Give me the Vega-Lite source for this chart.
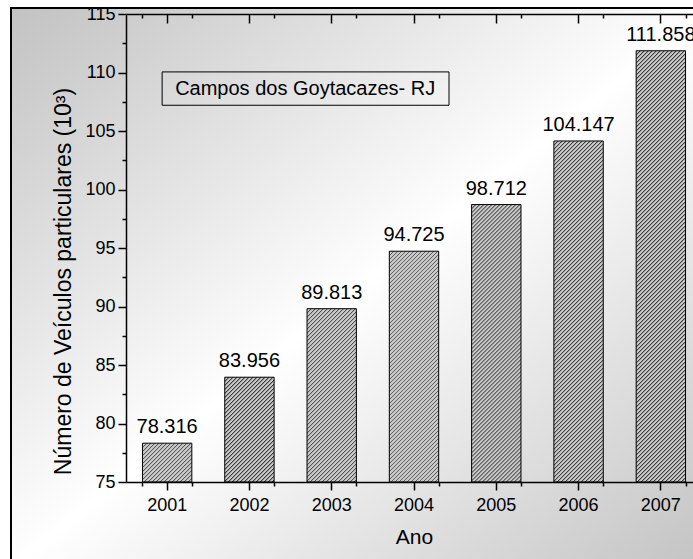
{
 "$schema": "https://vega.github.io/schema/vega-lite/v6.json",
 "width": 700,
 "height": 560,
 "autosize": {"type": "none"},
 "padding": {"left": 11, "top": 8, "right": -18, "bottom": -9},
 "background": "#ffffff",
 "config": {
  "font": "Liberation Sans",
  "view": {"stroke": null},
  "axis": {"grid": false, "domainColor": "#000", "tickColor": "#000", "labelColor": "#000", "titleColor": "#000", "titleFontWeight": "normal", "domainWidth": 1.5, "tickWidth": 1.5, "labelFont": "Liberation Sans", "titleFont": "Liberation Sans"}
 },
 "params": [{"name": "hatch", "value": [
{"offset":0,"color":"#333"},{"offset":0.003,"color":"#c8c8c8"},{"offset":0.007,"color":"#c8c8c8"},
{"offset":0.008,"color":"#333"},{"offset":0.011,"color":"#c8c8c8"},{"offset":0.015,"color":"#c8c8c8"},
{"offset":0.016,"color":"#333"},{"offset":0.019,"color":"#c8c8c8"},{"offset":0.023,"color":"#c8c8c8"},
{"offset":0.024,"color":"#333"},{"offset":0.027,"color":"#c8c8c8"},{"offset":0.031,"color":"#c8c8c8"},
{"offset":0.032,"color":"#333"},{"offset":0.035,"color":"#c8c8c8"},{"offset":0.039,"color":"#c8c8c8"},
{"offset":0.04,"color":"#333"},{"offset":0.043,"color":"#c8c8c8"},{"offset":0.047,"color":"#c8c8c8"},
{"offset":0.048,"color":"#333"},{"offset":0.051,"color":"#c8c8c8"},{"offset":0.055,"color":"#c8c8c8"},
{"offset":0.056,"color":"#333"},{"offset":0.059,"color":"#c8c8c8"},{"offset":0.063,"color":"#c8c8c8"},
{"offset":0.064,"color":"#333"},{"offset":0.067,"color":"#c8c8c8"},{"offset":0.071,"color":"#c8c8c8"},
{"offset":0.072,"color":"#333"},{"offset":0.075,"color":"#c8c8c8"},{"offset":0.079,"color":"#c8c8c8"},
{"offset":0.08,"color":"#333"},{"offset":0.083,"color":"#c8c8c8"},{"offset":0.087,"color":"#c8c8c8"},
{"offset":0.088,"color":"#333"},{"offset":0.091,"color":"#c8c8c8"},{"offset":0.095,"color":"#c8c8c8"},
{"offset":0.096,"color":"#333"},{"offset":0.099,"color":"#c8c8c8"},{"offset":0.103,"color":"#c8c8c8"},
{"offset":0.104,"color":"#333"},{"offset":0.107,"color":"#c8c8c8"},{"offset":0.111,"color":"#c8c8c8"},
{"offset":0.112,"color":"#333"},{"offset":0.115,"color":"#c8c8c8"},{"offset":0.119,"color":"#c8c8c8"},
{"offset":0.12,"color":"#333"},{"offset":0.123,"color":"#c8c8c8"},{"offset":0.127,"color":"#c8c8c8"},
{"offset":0.128,"color":"#333"},{"offset":0.131,"color":"#c8c8c8"},{"offset":0.135,"color":"#c8c8c8"},
{"offset":0.136,"color":"#333"},{"offset":0.139,"color":"#c8c8c8"},{"offset":0.143,"color":"#c8c8c8"},
{"offset":0.144,"color":"#333"},{"offset":0.147,"color":"#c8c8c8"},{"offset":0.151,"color":"#c8c8c8"},
{"offset":0.152,"color":"#333"},{"offset":0.155,"color":"#c8c8c8"},{"offset":0.159,"color":"#c8c8c8"},
{"offset":0.16,"color":"#333"},{"offset":0.163,"color":"#c8c8c8"},{"offset":0.167,"color":"#c8c8c8"},
{"offset":0.168,"color":"#333"},{"offset":0.171,"color":"#c8c8c8"},{"offset":0.175,"color":"#c8c8c8"},
{"offset":0.176,"color":"#333"},{"offset":0.179,"color":"#c8c8c8"},{"offset":0.183,"color":"#c8c8c8"},
{"offset":0.184,"color":"#333"},{"offset":0.187,"color":"#c8c8c8"},{"offset":0.191,"color":"#c8c8c8"},
{"offset":0.192,"color":"#333"},{"offset":0.195,"color":"#c8c8c8"},{"offset":0.199,"color":"#c8c8c8"},
{"offset":0.2,"color":"#333"},{"offset":0.203,"color":"#c8c8c8"},{"offset":0.207,"color":"#c8c8c8"},
{"offset":0.208,"color":"#333"},{"offset":0.211,"color":"#c8c8c8"},{"offset":0.215,"color":"#c8c8c8"},
{"offset":0.216,"color":"#333"},{"offset":0.219,"color":"#c8c8c8"},{"offset":0.223,"color":"#c8c8c8"},
{"offset":0.224,"color":"#333"},{"offset":0.227,"color":"#c8c8c8"},{"offset":0.231,"color":"#c8c8c8"},
{"offset":0.232,"color":"#333"},{"offset":0.235,"color":"#c8c8c8"},{"offset":0.239,"color":"#c8c8c8"},
{"offset":0.24,"color":"#333"},{"offset":0.243,"color":"#c8c8c8"},{"offset":0.247,"color":"#c8c8c8"},
{"offset":0.248,"color":"#333"},{"offset":0.251,"color":"#c8c8c8"},{"offset":0.255,"color":"#c8c8c8"},
{"offset":0.256,"color":"#333"},{"offset":0.259,"color":"#c8c8c8"},{"offset":0.263,"color":"#c8c8c8"},
{"offset":0.264,"color":"#333"},{"offset":0.267,"color":"#c8c8c8"},{"offset":0.271,"color":"#c8c8c8"},
{"offset":0.272,"color":"#333"},{"offset":0.275,"color":"#c8c8c8"},{"offset":0.279,"color":"#c8c8c8"},
{"offset":0.28,"color":"#333"},{"offset":0.283,"color":"#c8c8c8"},{"offset":0.287,"color":"#c8c8c8"},
{"offset":0.288,"color":"#333"},{"offset":0.291,"color":"#c8c8c8"},{"offset":0.295,"color":"#c8c8c8"},
{"offset":0.296,"color":"#333"},{"offset":0.299,"color":"#c8c8c8"},{"offset":0.303,"color":"#c8c8c8"},
{"offset":0.304,"color":"#333"},{"offset":0.307,"color":"#c8c8c8"},{"offset":0.311,"color":"#c8c8c8"},
{"offset":0.312,"color":"#333"},{"offset":0.315,"color":"#c8c8c8"},{"offset":0.319,"color":"#c8c8c8"},
{"offset":0.32,"color":"#333"},{"offset":0.323,"color":"#c8c8c8"},{"offset":0.327,"color":"#c8c8c8"},
{"offset":0.328,"color":"#333"},{"offset":0.331,"color":"#c8c8c8"},{"offset":0.335,"color":"#c8c8c8"},
{"offset":0.336,"color":"#333"},{"offset":0.339,"color":"#c8c8c8"},{"offset":0.343,"color":"#c8c8c8"},
{"offset":0.344,"color":"#333"},{"offset":0.347,"color":"#c8c8c8"},{"offset":0.351,"color":"#c8c8c8"},
{"offset":0.352,"color":"#333"},{"offset":0.355,"color":"#c8c8c8"},{"offset":0.359,"color":"#c8c8c8"},
{"offset":0.36,"color":"#333"},{"offset":0.363,"color":"#c8c8c8"},{"offset":0.367,"color":"#c8c8c8"},
{"offset":0.368,"color":"#333"},{"offset":0.371,"color":"#c8c8c8"},{"offset":0.375,"color":"#c8c8c8"},
{"offset":0.376,"color":"#333"},{"offset":0.379,"color":"#c8c8c8"},{"offset":0.383,"color":"#c8c8c8"},
{"offset":0.384,"color":"#333"},{"offset":0.387,"color":"#c8c8c8"},{"offset":0.391,"color":"#c8c8c8"},
{"offset":0.392,"color":"#333"},{"offset":0.395,"color":"#c8c8c8"},{"offset":0.399,"color":"#c8c8c8"},
{"offset":0.4,"color":"#333"},{"offset":0.403,"color":"#c8c8c8"},{"offset":0.407,"color":"#c8c8c8"},
{"offset":0.408,"color":"#333"},{"offset":0.411,"color":"#c8c8c8"},{"offset":0.415,"color":"#c8c8c8"},
{"offset":0.416,"color":"#333"},{"offset":0.419,"color":"#c8c8c8"},{"offset":0.423,"color":"#c8c8c8"},
{"offset":0.424,"color":"#333"},{"offset":0.427,"color":"#c8c8c8"},{"offset":0.431,"color":"#c8c8c8"},
{"offset":0.432,"color":"#333"},{"offset":0.435,"color":"#c8c8c8"},{"offset":0.439,"color":"#c8c8c8"},
{"offset":0.44,"color":"#333"},{"offset":0.443,"color":"#c8c8c8"},{"offset":0.447,"color":"#c8c8c8"},
{"offset":0.448,"color":"#333"},{"offset":0.451,"color":"#c8c8c8"},{"offset":0.455,"color":"#c8c8c8"},
{"offset":0.456,"color":"#333"},{"offset":0.459,"color":"#c8c8c8"},{"offset":0.463,"color":"#c8c8c8"},
{"offset":0.464,"color":"#333"},{"offset":0.467,"color":"#c8c8c8"},{"offset":0.471,"color":"#c8c8c8"},
{"offset":0.472,"color":"#333"},{"offset":0.475,"color":"#c8c8c8"},{"offset":0.479,"color":"#c8c8c8"},
{"offset":0.48,"color":"#333"},{"offset":0.483,"color":"#c8c8c8"},{"offset":0.487,"color":"#c8c8c8"},
{"offset":0.488,"color":"#333"},{"offset":0.491,"color":"#c8c8c8"},{"offset":0.495,"color":"#c8c8c8"},
{"offset":0.496,"color":"#333"},{"offset":0.499,"color":"#c8c8c8"},{"offset":0.503,"color":"#c8c8c8"},
{"offset":0.504,"color":"#333"},{"offset":0.507,"color":"#c8c8c8"},{"offset":0.511,"color":"#c8c8c8"},
{"offset":0.512,"color":"#333"},{"offset":0.515,"color":"#c8c8c8"},{"offset":0.519,"color":"#c8c8c8"},
{"offset":0.52,"color":"#333"},{"offset":0.523,"color":"#c8c8c8"},{"offset":0.527,"color":"#c8c8c8"},
{"offset":0.528,"color":"#333"},{"offset":0.531,"color":"#c8c8c8"},{"offset":0.535,"color":"#c8c8c8"},
{"offset":0.536,"color":"#333"},{"offset":0.539,"color":"#c8c8c8"},{"offset":0.543,"color":"#c8c8c8"},
{"offset":0.544,"color":"#333"},{"offset":0.547,"color":"#c8c8c8"},{"offset":0.551,"color":"#c8c8c8"},
{"offset":0.552,"color":"#333"},{"offset":0.555,"color":"#c8c8c8"},{"offset":0.559,"color":"#c8c8c8"},
{"offset":0.56,"color":"#333"},{"offset":0.563,"color":"#c8c8c8"},{"offset":0.567,"color":"#c8c8c8"},
{"offset":0.568,"color":"#333"},{"offset":0.571,"color":"#c8c8c8"},{"offset":0.575,"color":"#c8c8c8"},
{"offset":0.576,"color":"#333"},{"offset":0.579,"color":"#c8c8c8"},{"offset":0.583,"color":"#c8c8c8"},
{"offset":0.584,"color":"#333"},{"offset":0.587,"color":"#c8c8c8"},{"offset":0.591,"color":"#c8c8c8"},
{"offset":0.592,"color":"#333"},{"offset":0.595,"color":"#c8c8c8"},{"offset":0.599,"color":"#c8c8c8"},
{"offset":0.6,"color":"#333"},{"offset":0.603,"color":"#c8c8c8"},{"offset":0.607,"color":"#c8c8c8"},
{"offset":0.608,"color":"#333"},{"offset":0.611,"color":"#c8c8c8"},{"offset":0.615,"color":"#c8c8c8"},
{"offset":0.616,"color":"#333"},{"offset":0.619,"color":"#c8c8c8"},{"offset":0.623,"color":"#c8c8c8"},
{"offset":0.624,"color":"#333"},{"offset":0.627,"color":"#c8c8c8"},{"offset":0.631,"color":"#c8c8c8"},
{"offset":0.632,"color":"#333"},{"offset":0.635,"color":"#c8c8c8"},{"offset":0.639,"color":"#c8c8c8"},
{"offset":0.64,"color":"#333"},{"offset":0.643,"color":"#c8c8c8"},{"offset":0.647,"color":"#c8c8c8"},
{"offset":0.648,"color":"#333"},{"offset":0.651,"color":"#c8c8c8"},{"offset":0.655,"color":"#c8c8c8"},
{"offset":0.656,"color":"#333"},{"offset":0.659,"color":"#c8c8c8"},{"offset":0.663,"color":"#c8c8c8"},
{"offset":0.664,"color":"#333"},{"offset":0.667,"color":"#c8c8c8"},{"offset":0.671,"color":"#c8c8c8"},
{"offset":0.672,"color":"#333"},{"offset":0.675,"color":"#c8c8c8"},{"offset":0.679,"color":"#c8c8c8"},
{"offset":0.68,"color":"#333"},{"offset":0.683,"color":"#c8c8c8"},{"offset":0.687,"color":"#c8c8c8"},
{"offset":0.688,"color":"#333"},{"offset":0.691,"color":"#c8c8c8"},{"offset":0.695,"color":"#c8c8c8"},
{"offset":0.696,"color":"#333"},{"offset":0.699,"color":"#c8c8c8"},{"offset":0.703,"color":"#c8c8c8"},
{"offset":0.704,"color":"#333"},{"offset":0.707,"color":"#c8c8c8"},{"offset":0.711,"color":"#c8c8c8"},
{"offset":0.712,"color":"#333"},{"offset":0.715,"color":"#c8c8c8"},{"offset":0.719,"color":"#c8c8c8"},
{"offset":0.72,"color":"#333"},{"offset":0.723,"color":"#c8c8c8"},{"offset":0.727,"color":"#c8c8c8"},
{"offset":0.728,"color":"#333"},{"offset":0.731,"color":"#c8c8c8"},{"offset":0.735,"color":"#c8c8c8"},
{"offset":0.736,"color":"#333"},{"offset":0.739,"color":"#c8c8c8"},{"offset":0.743,"color":"#c8c8c8"},
{"offset":0.744,"color":"#333"},{"offset":0.747,"color":"#c8c8c8"},{"offset":0.751,"color":"#c8c8c8"},
{"offset":0.752,"color":"#333"},{"offset":0.755,"color":"#c8c8c8"},{"offset":0.759,"color":"#c8c8c8"},
{"offset":0.76,"color":"#333"},{"offset":0.763,"color":"#c8c8c8"},{"offset":0.767,"color":"#c8c8c8"},
{"offset":0.768,"color":"#333"},{"offset":0.771,"color":"#c8c8c8"},{"offset":0.775,"color":"#c8c8c8"},
{"offset":0.776,"color":"#333"},{"offset":0.779,"color":"#c8c8c8"},{"offset":0.783,"color":"#c8c8c8"},
{"offset":0.784,"color":"#333"},{"offset":0.787,"color":"#c8c8c8"},{"offset":0.791,"color":"#c8c8c8"},
{"offset":0.792,"color":"#333"},{"offset":0.795,"color":"#c8c8c8"},{"offset":0.799,"color":"#c8c8c8"},
{"offset":0.8,"color":"#333"},{"offset":0.803,"color":"#c8c8c8"},{"offset":0.807,"color":"#c8c8c8"},
{"offset":0.808,"color":"#333"},{"offset":0.811,"color":"#c8c8c8"},{"offset":0.815,"color":"#c8c8c8"},
{"offset":0.816,"color":"#333"},{"offset":0.819,"color":"#c8c8c8"},{"offset":0.823,"color":"#c8c8c8"},
{"offset":0.824,"color":"#333"},{"offset":0.827,"color":"#c8c8c8"},{"offset":0.831,"color":"#c8c8c8"},
{"offset":0.832,"color":"#333"},{"offset":0.835,"color":"#c8c8c8"},{"offset":0.839,"color":"#c8c8c8"},
{"offset":0.84,"color":"#333"},{"offset":0.843,"color":"#c8c8c8"},{"offset":0.847,"color":"#c8c8c8"},
{"offset":0.848,"color":"#333"},{"offset":0.851,"color":"#c8c8c8"},{"offset":0.855,"color":"#c8c8c8"},
{"offset":0.856,"color":"#333"},{"offset":0.859,"color":"#c8c8c8"},{"offset":0.863,"color":"#c8c8c8"},
{"offset":0.864,"color":"#333"},{"offset":0.867,"color":"#c8c8c8"},{"offset":0.871,"color":"#c8c8c8"},
{"offset":0.872,"color":"#333"},{"offset":0.875,"color":"#c8c8c8"},{"offset":0.879,"color":"#c8c8c8"},
{"offset":0.88,"color":"#333"},{"offset":0.883,"color":"#c8c8c8"},{"offset":0.887,"color":"#c8c8c8"},
{"offset":0.888,"color":"#333"},{"offset":0.891,"color":"#c8c8c8"},{"offset":0.895,"color":"#c8c8c8"},
{"offset":0.896,"color":"#333"},{"offset":0.899,"color":"#c8c8c8"},{"offset":0.903,"color":"#c8c8c8"},
{"offset":0.904,"color":"#333"},{"offset":0.907,"color":"#c8c8c8"},{"offset":0.911,"color":"#c8c8c8"},
{"offset":0.912,"color":"#333"},{"offset":0.915,"color":"#c8c8c8"},{"offset":0.919,"color":"#c8c8c8"},
{"offset":0.92,"color":"#333"},{"offset":0.923,"color":"#c8c8c8"},{"offset":0.927,"color":"#c8c8c8"},
{"offset":0.928,"color":"#333"},{"offset":0.931,"color":"#c8c8c8"},{"offset":0.935,"color":"#c8c8c8"},
{"offset":0.936,"color":"#333"},{"offset":0.939,"color":"#c8c8c8"},{"offset":0.943,"color":"#c8c8c8"},
{"offset":0.944,"color":"#333"},{"offset":0.947,"color":"#c8c8c8"},{"offset":0.951,"color":"#c8c8c8"},
{"offset":0.952,"color":"#333"},{"offset":0.955,"color":"#c8c8c8"},{"offset":0.959,"color":"#c8c8c8"},
{"offset":0.96,"color":"#333"},{"offset":0.963,"color":"#c8c8c8"},{"offset":0.967,"color":"#c8c8c8"},
{"offset":0.968,"color":"#333"},{"offset":0.971,"color":"#c8c8c8"},{"offset":0.975,"color":"#c8c8c8"},
{"offset":0.976,"color":"#333"},{"offset":0.979,"color":"#c8c8c8"},{"offset":0.983,"color":"#c8c8c8"},
{"offset":0.984,"color":"#333"},{"offset":0.987,"color":"#c8c8c8"},{"offset":0.991,"color":"#c8c8c8"},
{"offset":0.992,"color":"#333"},{"offset":0.995,"color":"#c8c8c8"},{"offset":0.999,"color":"#c8c8c8"},
{"offset":1,"color":"#333"}
 ]}],
 "data": {"values": [
  {"ano": "2001", "veiculos": 78.316},
  {"ano": "2002", "veiculos": 83.956},
  {"ano": "2003", "veiculos": 89.813},
  {"ano": "2004", "veiculos": 94.725},
  {"ano": "2005", "veiculos": 98.712},
  {"ano": "2006", "veiculos": 104.147},
  {"ano": "2007", "veiculos": 111.858}
 ]},
 "layer": [
  {
   "data": {"values": [{}]},
   "mark": {"type": "rect", "stroke": "#000", "strokeWidth": 2, "fill": {"gradient": "linear", "x1": 0, "y1": 0, "x2": 1, "y2": 1, "stops": [{"offset": 0, "color": "#c2c2c2"}, {"offset": 0.5, "color": "#ffffff"}, {"offset": 1, "color": "#c2c2c2"}]}},
   "encoding": {}
  },
  {
   "mark": {"type": "bar", "stroke": "#000", "strokeWidth": 1, "fill": {"expr": "{gradient: 'linear', x1: 0, y1: 0, x2: bandwidth('x') * 500 / (pow(bandwidth('x'), 2) + pow(scale('y', 75) - scale('y', datum.veiculos), 2)), y2: (scale('y', 75) - scale('y', datum.veiculos)) * 500 / (pow(bandwidth('x'), 2) + pow(scale('y', 75) - scale('y', datum.veiculos), 2)), stops: hatch}"}},
   "encoding": {
    "x": {"field": "ano", "type": "nominal", "sort": null,
     "scale": {"domain": ["2001", "2002", "2003", "2004", "2005", "2006", "2007"], "range": [115, 691], "paddingInner": 0.4, "paddingOuter": 0.2},
     "axis": {"zindex": 2, "orient": "bottom", "offset": -86, "title": "Ano", "titleFontSize": 21, "titlePadding": 12, "labelFontSize": 18, "labelAngle": 0, "tickSize": 8, "labelPadding": 6}},
    "y": {"field": "veiculos", "type": "quantitative",
     "scale": {"domain": [75, 115], "range": [474, 6], "nice": false, "zero": false},
     "axis": {"zindex": 2, "orient": "left", "offset": -115, "values": [75, 80, 85, 90, 95, 100, 105, 110, 115], "title": "Número de Veículos particulares (10³)", "titleFontSize": 23, "titlePadding": 9, "titleY": 273, "labelFontSize": 18, "tickSize": 8, "labelPadding": 3}},
    "y2": {"datum": 75}
   }
  },
  {
   "mark": {"type": "text", "fontSize": 20, "dy": -10, "baseline": "alphabetic", "align": "center", "fill": "#000"},
   "encoding": {
    "x": {"field": "ano", "type": "nominal", "sort": null,
     "axis": {"zindex": 2, "orient": "bottom", "offset": -86, "tickBand": "extent", "labels": false, "domain": false, "title": null, "tickSize": 4}},
    "y": {"field": "veiculos", "type": "quantitative",
     "axis": {"zindex": 2, "orient": "left", "offset": -115, "values": [77.5, 82.5, 87.5, 92.5, 97.5, 102.5, 107.5, 112.5], "labels": false, "domain": false, "title": null, "tickSize": 4}},
    "text": {"field": "veiculos", "type": "quantitative", "format": ".3f"}
   }
  },
  {
   "data": {"values": [{"label": "Campos dos Goytacazes- RJ"}]},
   "mark": {"type": "rect", "fill": "transparent", "stroke": "#000", "strokeWidth": 1, "xOffset": -5, "x2Offset": 35},
   "encoding": {
    "x": {"datum": "2001", "type": "nominal",
     "axis": {"zindex": 2, "orient": "top", "offset": -6, "tickBand": "extent", "labels": false, "domain": false, "title": null, "tickSize": -4}},
    "x2": {"datum": "2004"},
    "y": {"datum": 110.05, "type": "quantitative", "axis": null},
    "y2": {"datum": 107.2}
   }
  },
  {
   "data": {"values": [{"label": "Campos dos Goytacazes- RJ"}]},
   "mark": {"type": "text", "align": "left", "baseline": "middle", "dx": 8, "fontSize": 20, "fill": "#000"},
   "encoding": {
    "x": {"datum": "2001", "type": "nominal",
     "axis": {"zindex": 2, "orient": "top", "offset": -6, "labels": false, "title": null, "tickSize": -9}},
    "y": {"datum": 108.62, "type": "quantitative", "axis": null},
    "text": {"field": "label"}
   }
  }
 ],
 "resolve": {"axis": {"x": "independent", "y": "independent"}}
}
